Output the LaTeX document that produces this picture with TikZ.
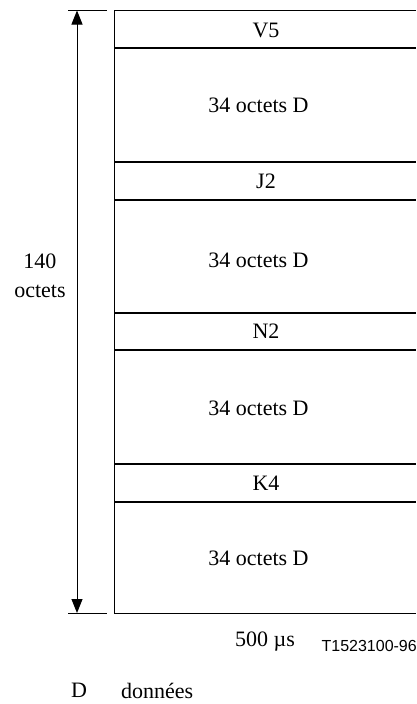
\documentclass[tikz,border=0pt]{standalone}
\usepackage{fontspec}
\setmainfont{Liberation Serif}
\newfontfamily\tagfont{Liberation Sans}
\usetikzlibrary{arrows.meta,positioning}
\tikzset{
  field/.style={font=\fontsize{22}{29}\selectfont,inner sep=0pt,align=center},
  sep/.style={line width=2pt},
  frame/.style={line width=1pt},
  ext/.style={line width=0.8pt},
  dim/.style={{Triangle[length=14pt,width=11pt]}-{Triangle[length=14pt,width=11pt]},line width=1pt},
}

\begin{document}
\begin{tikzpicture}[x=1pt,y=-1pt]
    \useasboundingbox (0,0) rectangle (416,704);
    % frame outline (right side runs off the page)
    \draw[frame] (416,10.5) -- (114,10.5) -- (114,613) -- (416,613);
    \draw[sep] (114,48) -- (416,48);
    \draw[sep] (114,162) -- (416,162);
    \draw[sep] (114,200) -- (416,200);
    \draw[sep] (114,313) -- (416,313);
    \draw[sep] (114,350) -- (416,350);
    \draw[sep] (114,464) -- (416,464);
    \draw[sep] (114,502) -- (416,502);
    \node[field] (v5) at (266,30) {V5};
    \node[field] (d1) at (258.5,105.5) {34 octets D};
    \node[field] (j2) at (266,181) {J2};
    \node[field] (d2) at (258.5,260) {34 octets D};
    \node[field] (n2) at (266,331.5) {N2};
    \node[field] (d3) at (258.5,408) {34 octets D};
    \node[field] (k4) at (266,483) {K4};
    \node[field] (d4) at (258.5,558) {34 octets D};
    % dimension arrow
    \coordinate (dtop) at (77,10.5);
    \coordinate (dbot) at (77,613);
    \draw[ext] (68,10.5) -- (107,10.5);
    \draw[ext] (68,613) -- (107,613);
    \draw[dim] (dtop) -- (dbot);
    \node[field,anchor=base] (len) at (40,297) {140\\octets};
    \node[field] (dur) at (265,641.5) {500 µs};
    \node[font=\tagfont\fontsize{16}{18}\selectfont,inner sep=0pt,anchor=east] (tag) at (417,646) {T1523100-96};
    \node[field] (key) at (79,690.5) {D};
    \node[field,anchor=west] (keytxt) at (121,690.5) {données};
  \end{tikzpicture}
\end{document}
